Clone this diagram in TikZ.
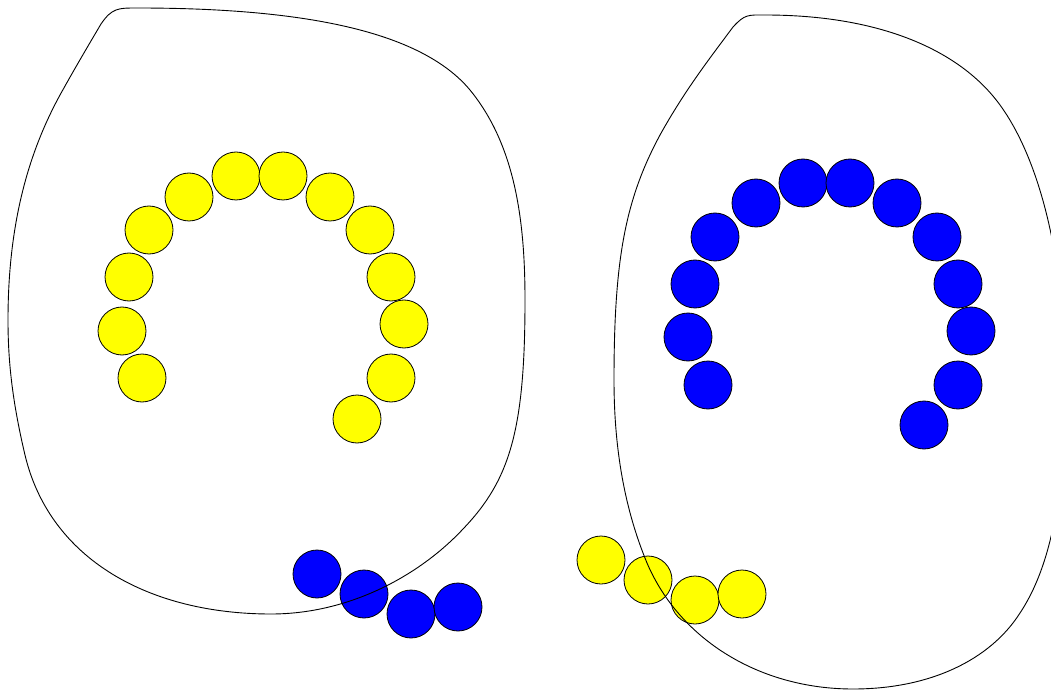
\documentclass[tikz,border=0pt]{standalone}
\definecolor{yel}{RGB}{255,255,0}
\definecolor{blu}{RGB}{0,0,255}
\begin{document}
\begin{tikzpicture}[x=1pt,y=-1pt,
  ball/.style={circle,draw=black,line width=0.8pt,minimum size=48pt,inner sep=0pt},
  yball/.style={ball,fill=yel},
  bball/.style={ball,fill=blu},
  blob/.style={draw=black,line width=0.9pt}]
\clip (0,0) rectangle (1051,692);
\fill[white] (0,0) rectangle (1051,692);
% left yellow arc
\node[yball] (ya1) at (142,378) {};
\node[yball] (ya2) at (122,331) {};
\node[yball] (ya3) at (129,277) {};
\node[yball] (ya4) at (149,230) {};
\node[yball] (ya5) at (189,197) {};
\node[yball] (ya6) at (236,176) {};
\node[yball] (ya7) at (283,176) {};
\node[yball] (ya8) at (330,197) {};
\node[yball] (ya9) at (370,230) {};
\node[yball] (ya10) at (391,277) {};
\node[yball] (ya11) at (404,324) {};
\node[yball] (ya12) at (391,378) {};
\node[yball] (ya13) at (357,419) {};
% left blue chain
\node[bball] (bc1) at (317,574) {};
\node[bball] (bc2) at (364,594) {};
\node[bball] (bc3) at (411,614) {};
\node[bball] (bc4) at (458,607) {};
% right blue arc
\node[bball] (ba1) at (708,385) {};
\node[bball] (ba2) at (688,337) {};
\node[bball] (ba3) at (695,284) {};
\node[bball] (ba4) at (715,237) {};
\node[bball] (ba5) at (756,203) {};
\node[bball] (ba6) at (803,183) {};
\node[bball] (ba7) at (850,183) {};
\node[bball] (ba8) at (897,203) {};
\node[bball] (ba9) at (937,237) {};
\node[bball] (ba10) at (958,284) {};
\node[bball] (ba11) at (971,331) {};
\node[bball] (ba12) at (958,385) {};
\node[bball] (ba13) at (924,425) {};
% right yellow chain
\node[yball] (yc1) at (601,560) {};
\node[yball] (yc2) at (648,580) {};
\node[yball] (yc3) at (695,600) {};
\node[yball] (yc4) at (742,594) {};
% left blob
\draw[blob] (101,24) .. controls (112,8) and (118,8) .. (137,8)
  .. controls (300,8) and (420,30) .. (470,90)
  .. controls (515,145) and (525,220) .. (525,300)
  .. controls (525,430) and (510,480) .. (463,529)
  .. controls (420,575) and (350,614) .. (271,614)
  .. controls (150,614) and (50,560) .. (25,455)
  .. controls (12,400) and (8,360) .. (8,320)
  .. controls (8,220) and (30,150) .. (60,95)
  .. controls (75,68) and (88,46) .. (101,24) -- cycle;
% right blob
\draw[blob] (733,27) .. controls (745,14) and (748,15) .. (765,15)
  .. controls (880,15) and (960,50) .. (1000,105)
  .. controls (1040,160) and (1065,260) .. (1065,380)
  .. controls (1065,480) and (1055,560) .. (1020,613)
  .. controls (990,660) and (930,689) .. (853,689)
  .. controls (760,689) and (680,640) .. (647,563)
  .. controls (625,510) and (614,450) .. (614,380)
  .. controls (614,260) and (625,200) .. (660,135)
  .. controls (685,90) and (710,58) .. (733,27) -- cycle;
\end{tikzpicture}
\end{document}
